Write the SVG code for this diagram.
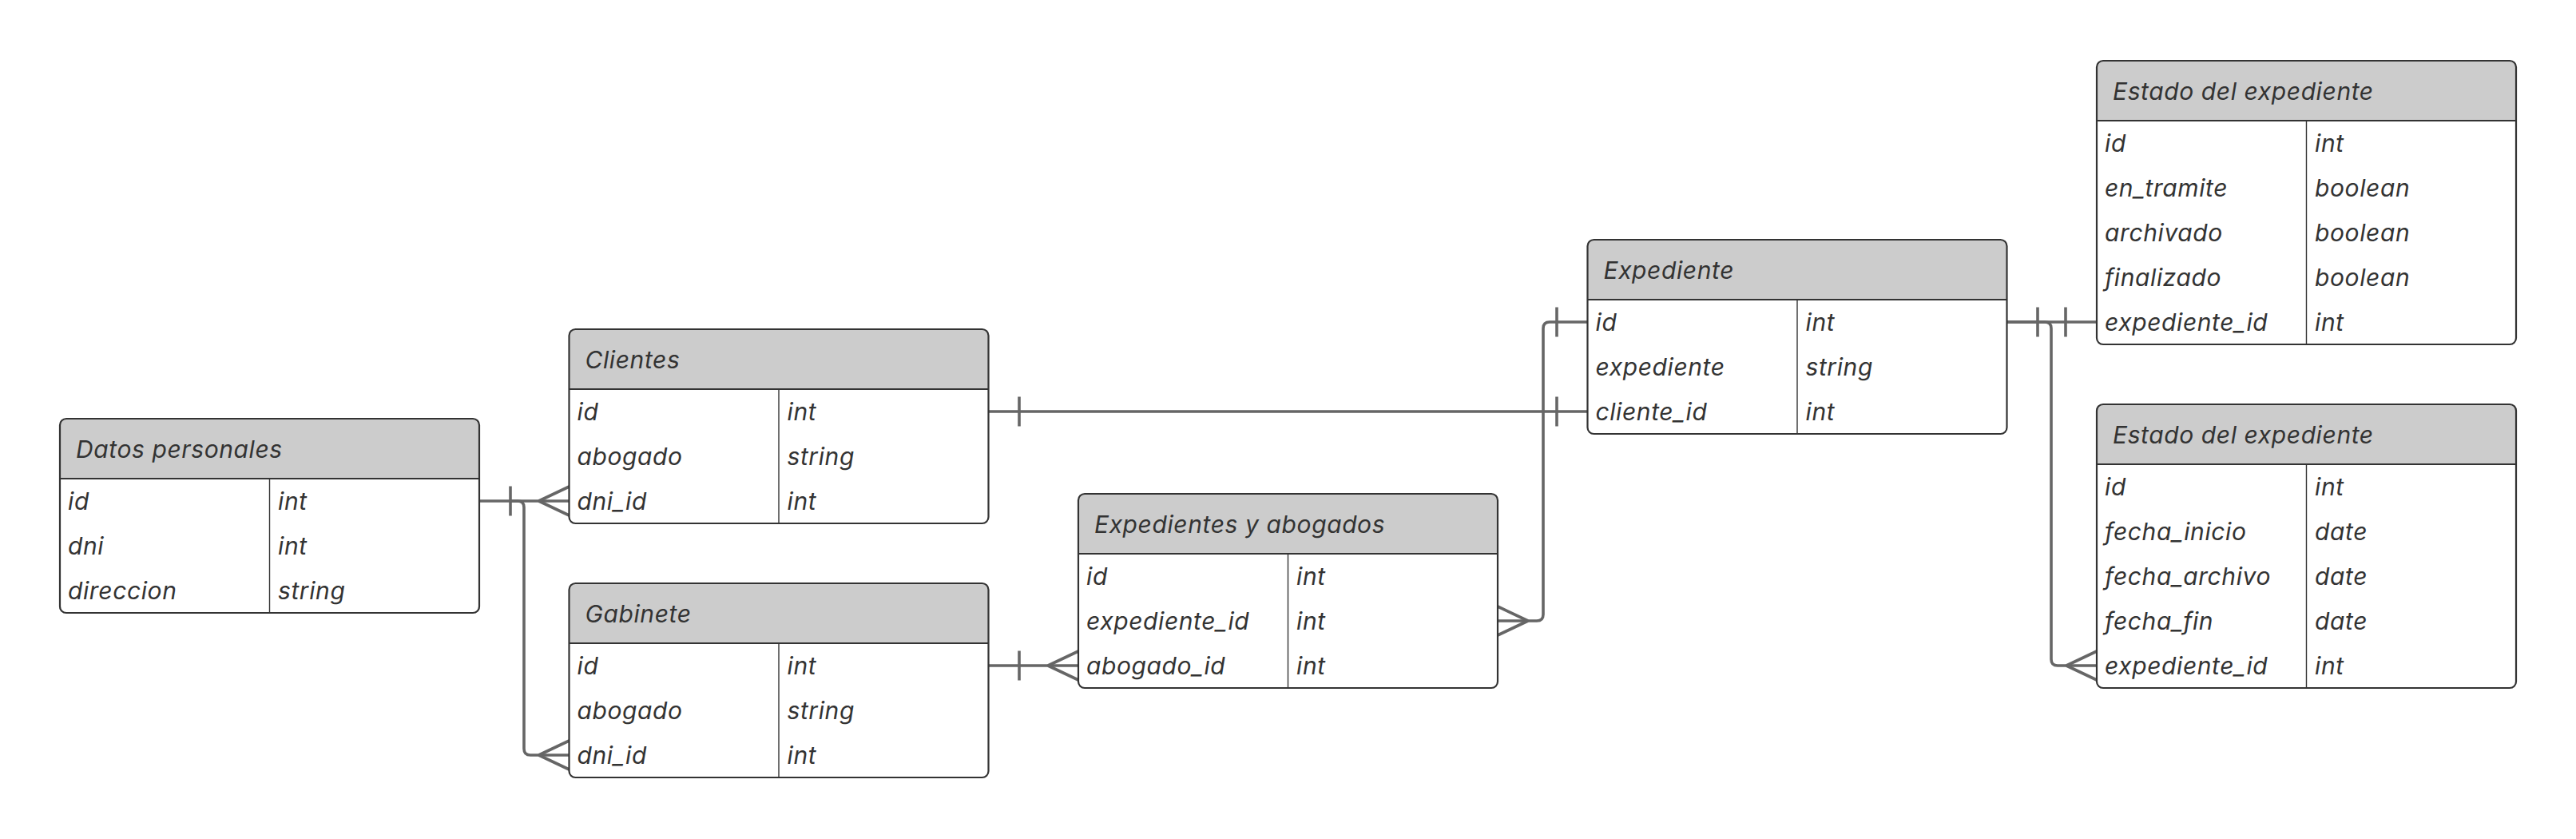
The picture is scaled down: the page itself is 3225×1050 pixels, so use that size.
<svg xmlns="http://www.w3.org/2000/svg" width="3225" height="1050" viewBox="0 0 3225 1050">
<style>
.bg{fill:#ffffff}
.box{fill:#ffffff;stroke:none}
.hdr{fill:#cccccc;stroke:none}
.frame{fill:none;stroke:#333333;stroke-width:2.2}
.sep{stroke:#333333;stroke-width:2.2}
.div{stroke:#333333;stroke-width:1.4}
text{font-family:Inter,"Noto Sans","Liberation Sans",sans-serif;font-style:italic;font-size:30px;fill:#333333;letter-spacing:0.6px}
.conn path{fill:none;stroke:#666666;stroke-width:3.6;stroke-linecap:butt;stroke-linejoin:round}
</style>
<defs>
<path id="hdr" d="M0,75 V8 Q0,0 8,0 H517 Q525,0 525,8 V75 Z"/>
</defs>
<rect class="bg" x="0" y="0" width="3225" height="1050"/>

<g id="connectors" class="conn">
<path d="M600,627 H712.5"/>
<path d="M639,608.5 V645.5"/>
<path d="M674.5,627 L712.5,609 M674.5,627 L712.5,645"/>
<path d="M639,627 H648 Q656,627 656,635 V937 Q656,945 664,945 H712.5"/>
<path d="M674.5,945 L712.5,927 M674.5,945 L712.5,963"/>
<path d="M1237.5,515 H1987.5"/>
<path d="M1276,496.5 V533.5 M1949,496.5 V533.5"/>
<path d="M1237.5,833 H1350"/>
<path d="M1276,814.5 V851.5"/>
<path d="M1312,833 L1350,815 M1312,833 L1350,851"/>
<path d="M1987.5,403 H1940 Q1932,403 1932,411 V769 Q1932,777 1924,777 H1875"/>
<path d="M1949,384.5 V421.5"/>
<path d="M1913,777 L1875,759 M1913,777 L1875,795"/>
<path d="M2512.5,403 H2625"/>
<path d="M2551,384.5 V421.5 M2586,384.5 V421.5"/>
<path d="M2512.5,403 H2560 Q2568,403 2568,411 V825 Q2568,833 2576,833 H2625"/>
<path d="M2587,833 L2625,815 M2587,833 L2625,851"/>
</g>

<g id="datos-personales" transform="translate(75,524)">
<rect class="box" width="525" height="243" rx="8"/>
<use href="#hdr" class="hdr"/>
<line class="sep" x1="0" y1="75" x2="525" y2="75"/>
<line class="div" x1="262.5" y1="75" x2="262.5" y2="243"/>
<rect class="frame" width="525" height="243" rx="8"/>
<text x="20" y="49">Datos personales</text>
<text x="10" y="114">id</text><text x="273" y="114">int</text>
<text x="10" y="170">dni</text><text x="273" y="170">int</text>
<text x="10" y="226">direccion</text><text x="273" y="226">string</text>
</g>

<g id="clientes" transform="translate(712.5,412)">
<rect class="box" width="525" height="243" rx="8"/>
<use href="#hdr" class="hdr"/>
<line class="sep" x1="0" y1="75" x2="525" y2="75"/>
<line class="div" x1="262.5" y1="75" x2="262.5" y2="243"/>
<rect class="frame" width="525" height="243" rx="8"/>
<text x="20" y="49">Clientes</text>
<text x="10" y="114">id</text><text x="273" y="114">int</text>
<text x="10" y="170">abogado</text><text x="273" y="170">string</text>
<text x="10" y="226">dni_id</text><text x="273" y="226">int</text>
</g>

<g id="gabinete" transform="translate(712.5,730)">
<rect class="box" width="525" height="243" rx="8"/>
<use href="#hdr" class="hdr"/>
<line class="sep" x1="0" y1="75" x2="525" y2="75"/>
<line class="div" x1="262.5" y1="75" x2="262.5" y2="243"/>
<rect class="frame" width="525" height="243" rx="8"/>
<text x="20" y="49">Gabinete</text>
<text x="10" y="114">id</text><text x="273" y="114">int</text>
<text x="10" y="170">abogado</text><text x="273" y="170">string</text>
<text x="10" y="226">dni_id</text><text x="273" y="226">int</text>
</g>

<g id="expedientes-y-abogados" transform="translate(1350,618)">
<rect class="box" width="525" height="243" rx="8"/>
<use href="#hdr" class="hdr"/>
<line class="sep" x1="0" y1="75" x2="525" y2="75"/>
<line class="div" x1="262.5" y1="75" x2="262.5" y2="243"/>
<rect class="frame" width="525" height="243" rx="8"/>
<text x="20" y="49">Expedientes y abogados</text>
<text x="10" y="114">id</text><text x="273" y="114">int</text>
<text x="10" y="170">expediente_id</text><text x="273" y="170">int</text>
<text x="10" y="226">abogado_id</text><text x="273" y="226">int</text>
</g>

<g id="expediente" transform="translate(1987.5,300)">
<rect class="box" width="525" height="243" rx="8"/>
<use href="#hdr" class="hdr"/>
<line class="sep" x1="0" y1="75" x2="525" y2="75"/>
<line class="div" x1="262.5" y1="75" x2="262.5" y2="243"/>
<rect class="frame" width="525" height="243" rx="8"/>
<text x="20" y="49">Expediente</text>
<text x="10" y="114">id</text><text x="273" y="114">int</text>
<text x="10" y="170">expediente</text><text x="273" y="170">string</text>
<text x="10" y="226">cliente_id</text><text x="273" y="226">int</text>
</g>

<g id="estado-del-expediente-1" transform="translate(2625,76)">
<rect class="box" width="525" height="355" rx="8"/>
<use href="#hdr" class="hdr"/>
<line class="sep" x1="0" y1="75" x2="525" y2="75"/>
<line class="div" x1="262.5" y1="75" x2="262.5" y2="355"/>
<rect class="frame" width="525" height="355" rx="8"/>
<text x="20" y="49">Estado del expediente</text>
<text x="10" y="114">id</text><text x="273" y="114">int</text>
<text x="10" y="170">en_tramite</text><text x="273" y="170">boolean</text>
<text x="10" y="226">archivado</text><text x="273" y="226">boolean</text>
<text x="10" y="282">finalizado</text><text x="273" y="282">boolean</text>
<text x="10" y="338">expediente_id</text><text x="273" y="338">int</text>
</g>

<g id="estado-del-expediente-2" transform="translate(2625,506)">
<rect class="box" width="525" height="355" rx="8"/>
<use href="#hdr" class="hdr"/>
<line class="sep" x1="0" y1="75" x2="525" y2="75"/>
<line class="div" x1="262.5" y1="75" x2="262.5" y2="355"/>
<rect class="frame" width="525" height="355" rx="8"/>
<text x="20" y="49">Estado del expediente</text>
<text x="10" y="114">id</text><text x="273" y="114">int</text>
<text x="10" y="170">fecha_inicio</text><text x="273" y="170">date</text>
<text x="10" y="226">fecha_archivo</text><text x="273" y="226">date</text>
<text x="10" y="282">fecha_fin</text><text x="273" y="282">date</text>
<text x="10" y="338">expediente_id</text><text x="273" y="338">int</text>
</g>
</svg>
